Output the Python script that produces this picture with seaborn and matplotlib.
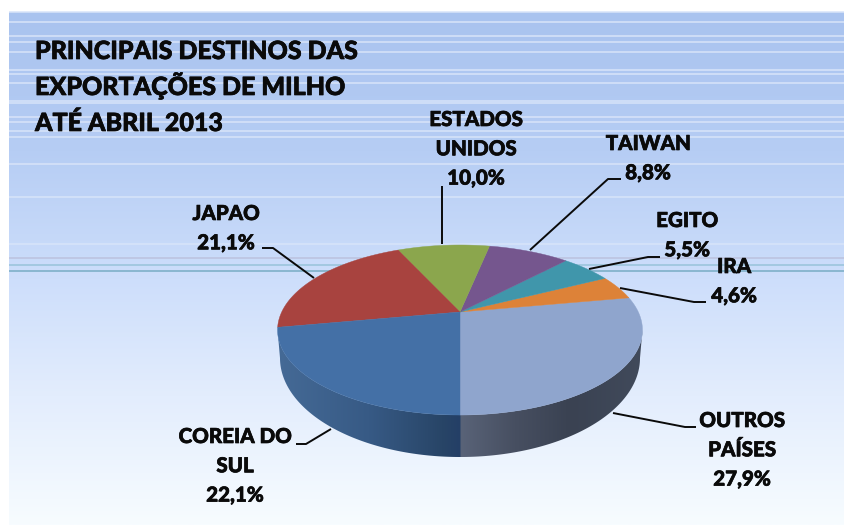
import numpy as np
import matplotlib
matplotlib.use("Agg")
import matplotlib.pyplot as plt
import matplotlib.patheffects as pe
from matplotlib.colors import LinearSegmentedColormap
from matplotlib.patches import Polygon
import seaborn as sns

title_lines = ["PRINCIPAIS DESTINOS DAS", "EXPORTAÇÕES DE MILHO", "ATÉ ABRIL 2013"]
categories = ["OUTROS\nPAÍSES", "IRA", "EGITO", "TAIWAN", "ESTADOS\nUNIDOS", "JAPAO", "COREIA DO\nSUL"]
shares = [27.9, 4.6, 5.5, 8.8, 10.0, 21.1, 22.1]
slice_colors = ["#8fa5cd", "#dd8238", "#4096ab", "#75568e", "#8ba64d", "#a8433f", "#4470a6"]
label_anchors = [(742, 427), (734, 273), (687, 227), (648, 150), (476, 126), (226, 220), (235, 443)]
leaders = [
    [(696, 427), (685, 427), (613, 413)],
    [(706, 302), (694, 302), (620, 288)],
    [(660, 257), (648, 257), (589, 269)],
    [(621, 179), (608, 179), (530, 250)],
    [(442, 186), (442, 244)],
    [(262, 248), (273, 248), (314, 278)],
    [(296, 444), (306, 444), (331, 429)],
]
stripe_rows = [12, 22, 36, 42, 52, 70, 74, 83, 101, 103, 117, 122, 131, 137, 164, 197, 244]
line_rows = [(258, "#bcc3e0"), (265, "#9cc4dc"), (271, "#7fb0c8")]

sns.set_theme(style="white")
plt.rcParams["font.family"] = ["Lato", "DejaVu Sans"]

fig = plt.figure(figsize=(8.44, 5.25), dpi=100, facecolor="white")
ax = fig.add_axes([0, 0, 1, 1])
ax.set_xlim(0, 844)
ax.set_ylim(525, 0)
ax.axis("off")

# background
bg_stops = [(0.0, "#a9c3ef"), (0.27, "#b6cdf4"), (0.52, "#cddefb"), (0.75, "#e3edfd"), (1.0, "#f7fcff")]
bg_cmap = LinearSegmentedColormap.from_list("bg", bg_stops)
ax.imshow(np.linspace(0, 1, 256)[:, None], cmap=bg_cmap, extent=(9, 844, 525, 12), aspect="auto", zorder=0)
ax.hlines(stripe_rows, 9, 844, color="#d8e4f9", lw=1.1, zorder=1)
for row, col in line_rows:
    ax.hlines(row, 9, 844, color=col, lw=1.2, zorder=1)

# perspective disc
CX, CY, A, B, K = 460, 312, 178.3, 81.2, 0.2118


def rim(theta):
    d = 1 + K * np.sin(theta)
    return CX + A * np.cos(theta) / d, CY - B * np.sin(theta) / d


# wall
left_t = np.pi + np.arcsin(K)
right_t = 2 * np.pi - np.arcsin(K)
t_top = np.linspace(left_t, right_t, 200)
xt, yt = rim(t_top)
t_bot = np.linspace(2 * np.pi, np.pi, 200)
xb, yb = 460 + 180 * np.cos(t_bot), 358 - 99 * np.sin(t_bot)
wall_xy = np.r_[np.c_[xt, yt], np.c_[xb, yb]]
x0, x1 = xt[0], xt[-1]
mid = (CX - x0) / (x1 - x0)
wall_stops = [(0.0, "#456a96"), (mid * 0.5, "#375a85"), (mid * 0.9, "#284567"), (mid - 0.001, "#243f66"),
              (mid + 0.001, "#596378"), (mid + 0.15, "#474f61"), (mid + 0.3, "#3a4252"), (1.0, "#414a5b")]
wall_cmap = LinearSegmentedColormap.from_list("wall", wall_stops, N=512)
im = ax.imshow(np.linspace(0, 1, 512)[None, :], cmap=wall_cmap, extent=(x0, x1, 460, 300), aspect="auto", zorder=2)
wall_patch = Polygon(wall_xy, closed=True, transform=ax.transData, fc="none", ec="none")
ax.add_patch(wall_patch)
im.set_clip_path(wall_patch)
ax.set_xlim(0, 844)
ax.set_ylim(525, 0)

# slices
palette = sns.color_palette(slice_colors)
edges = -np.pi / 2 + 2 * np.pi * np.r_[0, np.cumsum(shares)] / np.sum(shares)
for i, col in enumerate(palette):
    t = np.linspace(edges[i], edges[i + 1], 120)
    x, y = rim(t)
    ax.fill(np.r_[CX, x], np.r_[CY, y], color=col, lw=0.3, zorder=3)

# labels
LABEL_STEP = 29.3
thicken = [pe.withStroke(linewidth=0.5, foreground="#0a0a0a")]
for name, share, (cx, cy), pts in zip(categories, shares, label_anchors, leaders):
    rows = name.split("\n") + [f"{share:.1f}%".replace(".", ",")]
    for j, row in enumerate(rows):
        ax.text(cx, cy + j * LABEL_STEP, row, ha="center", va="baseline", fontsize=14.8, fontweight="black",
                color="#0a0a0a", zorder=6, path_effects=thicken)
    px, py = zip(*pts)
    ax.plot(px, py, color="#0a0a0a", lw=1.4, zorder=5, solid_capstyle="butt")

for line, y in zip(title_lines, [59, 95, 131]):
    ax.text(35, y, line, ha="left", va="baseline", fontsize=18, fontweight="black", color="#0a0a0a", zorder=6,
            path_effects=thicken)

fig.savefig("out.png", dpi=100)
